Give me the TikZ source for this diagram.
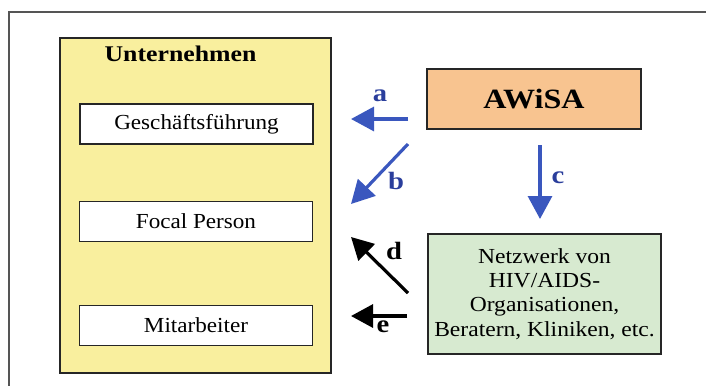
\documentclass[tikz,border=0pt]{standalone}
\usepackage{fontspec}
\setmainfont{Liberation Serif}[FakeStretch=1.08]
\newfontfamily\netfont{Liberation Serif}[FakeStretch=1.1]
\newfontfamily\boldwide{Liberation Serif Bold}[FakeStretch=1.15]
\usetikzlibrary{arrows.meta}
\definecolor{unty}{HTML}{F9EF9E}
\definecolor{awo}{HTML}{F8C490}
\definecolor{netg}{HTML}{D7EAD0}
\definecolor{arrb}{HTML}{3A57BE}
\definecolor{labb}{HTML}{2A3E9C}
\definecolor{framec}{HTML}{555555}
\tikzset{
  box/.style={draw=black!85, line width=1.6bp, inner sep=0pt, align=center},
  inbox/.style={box, fill=white, minimum width=233bp, minimum height=40bp, font=\fontsize{21.5}{24}\selectfont},
  bluearr/.style={draw=arrb, line width=3.2bp, -{Triangle[length=23bp,width=24bp]}, arrb},
  blackarr/.style={draw=black, line width=3.2bp, -{Triangle[length=22bp,width=23bp]}},
  lab/.style={font=\boldwide\fontsize{25}{25}\selectfont, inner sep=0pt}
}
\begin{document}
\begin{tikzpicture}[x=1bp,y=-1bp]
\useasboundingbox (0,0) rectangle (706,385);
\draw[framec, line width=1.2bp] (9,390) -- (9,12) -- (710,12);
% Unternehmen
\node[box, fill=unty, minimum width=271bp, minimum height=335bp] (unt) at (195.5,205.5) {};
\node[anchor=base, font=\boldwide\fontsize{22.5}{22.5}\selectfont, inner sep=0pt] (untt) at (180.5,61) {Unternehmen};
\node[inbox] (gf) at (196.5,124) {Geschäftsführung};
\node[inbox] (fp) at (196,221.5) {Focal Person};
\node[inbox] (ma) at (196,325.5) {Mitarbeiter};
% AWiSA
\node[box, fill=awo, minimum width=214bp, minimum height=60bp, font=\boldwide\fontsize{28}{28}\selectfont] (aw) at (534,99) {AWiSA};
% Netzwerk
\node[box, fill=netg, minimum width=233bp, minimum height=120bp, font=\netfont\fontsize{21.5}{24.5}\selectfont] (nw) at (544.5,294) {Netzwerk von\\HIV/AIDS-\\Organisationen,\\Beratern, Kliniken, etc.};
% arrows
\coordinate (a1) at (408,119); \coordinate (a2) at (351,119);
\coordinate (b1) at (408,144); \coordinate (b2) at (351,204);
\coordinate (c1) at (540,145); \coordinate (c2) at (540,219);
\coordinate (d1) at (408,293); \coordinate (d2) at (351,237);
\coordinate (e1) at (407,316); \coordinate (e2) at (351,316);
\draw[bluearr] (a1) -- (a2);
\draw[bluearr] (b1) -- (b2);
\draw[bluearr] (c1) -- (c2);
\draw[blackarr] (d1) -- (d2);
\draw[blackarr] (e1) -- (e2);
\node[lab, text=labb] (la) at (380,96) {a};
\node[lab, text=labb] (lb) at (396,181) {b};
\node[lab, text=labb] (lc) at (558,178) {c};
\node[lab] (ld) at (394,251) {d};
\node[lab] (le) at (383,327) {e};
\end{tikzpicture}
\end{document}
